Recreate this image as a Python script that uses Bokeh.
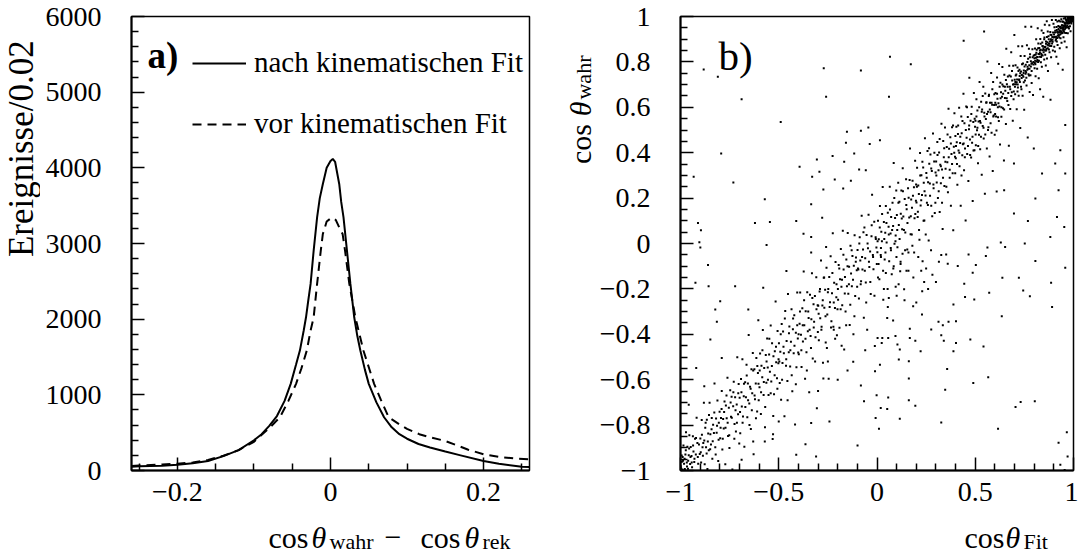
import math
from bokeh.plotting import figure
from bokeh.models import (Range1d, FixedTicker, CustomJSTickFormatter, Label,
                          Legend, LegendItem, ColumnDataSource)
from bokeh.layouts import row, column
from bokeh.embed import file_html
from bokeh.resources import INLINE

FONT = "Liberation Serif"

# ---------------- panel a) : cos(theta_wahr) - cos(theta_rek) ----------------
dcos_after = [-0.26, -0.25, -0.22, -0.20, -0.18, -0.16, -0.14, -0.12, -0.10, -0.09,
              -0.08, -0.07, -0.06, -0.052, -0.045, -0.040, -0.035, -0.032, -0.029, -0.026,
              -0.022, -0.0175, -0.014, -0.010, -0.005, 0.0, 0.003, 0.006, 0.0114, 0.014,
              0.017, 0.0215, 0.026, 0.031, 0.035, 0.039, 0.045, 0.050, 0.060, 0.070,
              0.080, 0.090, 0.100, 0.115, 0.13, 0.15, 0.17, 0.20, 0.22, 0.25, 0.26]
events_after = [50, 55, 62, 75, 95, 125, 190, 270, 400, 480,
                590, 720, 920, 1145, 1400, 1585, 1850, 2025, 2250, 2466,
                2906, 3346, 3600, 3787, 4000, 4090, 4117, 4080, 3787, 3550,
                3346, 2906, 2466, 2025, 1780, 1585, 1330, 1145, 900, 704,
                570, 480, 420, 350, 305, 250, 200, 125, 90, 50, 45]

dcos_before = [-0.26, -0.25, -0.22, -0.20, -0.18, -0.16, -0.14, -0.12, -0.10, -0.08,
               -0.066, -0.055, -0.045, -0.038, -0.031, -0.026, -0.022, -0.0175, -0.0127, -0.010,
               -0.005, 0.0, 0.003, 0.007, 0.012, 0.0158, 0.019, 0.0246, 0.0325, 0.043,
               0.057, 0.066, 0.076, 0.09, 0.10, 0.116, 0.13, 0.15, 0.18, 0.20,
               0.22, 0.24, 0.26]
events_before = [60, 65, 80, 90, 105, 140, 195, 270, 380, 560,
                 704, 920, 1145, 1350, 1585, 1850, 2025, 2466, 2906, 3126,
                 3290, 3330, 3340, 3310, 3200, 3126, 2906, 2466, 2025, 1585,
                 1145, 930, 704, 610, 550, 480, 440, 390, 275, 215,
                 180, 160, 148]

legend_labels = ["nach kinematischen Fit", "vor kinematischen Fit"]

a_xticks = [-0.2, 0, 0.2]
a_xminor = [-0.25, -0.15, -0.1, -0.05, 0.05, 0.1, 0.15, 0.25]
a_yticks = [0, 1000, 2000, 3000, 4000, 5000, 6000]
a_yminor = [200, 400, 600, 800, 1200, 1400, 1600, 1800, 2200, 2400, 2600, 2800,
            3200, 3400, 3600, 3800, 4200, 4400, 4600, 4800, 5200, 5400, 5600, 5800]

# ---------------- panel b) : cos(theta_Fit) vs cos(theta_wahr) ----------------
b_xticks = [-1, -0.5, 0, 0.5, 1]
b_xminor = [-0.9, -0.8, -0.7, -0.6, -0.4, -0.3, -0.2, -0.1,
            0.1, 0.2, 0.3, 0.4, 0.6, 0.7, 0.8, 0.9]
b_yticks = [-1, -0.8, -0.6, -0.4, -0.2, 0, 0.2, 0.4, 0.6, 0.8, 1]
b_yminor = [-0.95, -0.9, -0.85, -0.75, -0.7, -0.65, -0.55, -0.5, -0.45, -0.35, -0.3, -0.25,
            -0.15, -0.1, -0.05, 0.05, 0.1, 0.15, 0.25, 0.3, 0.35, 0.45, 0.5, 0.55,
            0.65, 0.7, 0.75, 0.85, 0.9, 0.95]

# events (cos_fit, cos_wahr), in thousandths
band_pts = [
    (-997,-990),(-994,-934),(-991,-996),(-987,-957),(-985,-890),(-982,-970),(-978,-993),(-975,-930),(-972,-832),(-968,-965),
    (-965,-895),(-962,-992),(-958,-933),(-955,-845),(-951,-971),(-948,-896),(-944,-936),(-941,-986),(-937,-849),(-934,-916),
    (-930,-963),(-926,-860),(-922,-930),(-918,-768),(-914,-879),(-910,-970),(-906,-886),(-902,-927),
    (-899,-859),(-895,-965),(-892,-777),(-888,-898),(-884,-879),(-881,-701),(-877,-972),(-874,-812),(-870,-898),(-866,-776),
    (-863,-993),(-859,-837),(-856,-911),(-852,-702),(-848,-840),(-845,-885),(-841,-769),(-838,-948),(-834,-799),(-830,-835),
    (-827,-617),(-823,-898),(-819,-771),(-816,-834),(-812,-692),(-808,-958),(-805,-790),(-801,-741),
    (-798,-858),(-794,-769),(-790,-650),(-787,-907),(-783,-773),(-780,-815),(-776,-696),(-772,-972),(-769,-714),(-765,-770),
    (-761,-591),(-758,-848),(-754,-724),(-751,-901),(-747,-647),(-743,-763),(-740,-675),(-736,-996),(-732,-717),(-729,-609),
    (-725,-795),(-722,-677),(-718,-828),(-714,-709),(-711,-501),(-707,-752),(-704,-619),(-701,-881),
    (-699,-679),(-696,-836),(-692,-597),(-688,-718),(-685,-510),(-682,-762),(-678,-673),(-675,-895),(-671,-611),(-667,-677),
    (-664,-534),(-660,-765),(-657,-617),(-653,-403),(-650,-705),(-646,-631),(-642,-817),(-639,-554),(-635,-660),(-632,-482),
    (-628,-928),(-624,-554),(-621,-686),(-617,-617),(-614,-504),(-610,-740),(-606,-571),(-603,-618),
    (-598,-633),(-595,-485),(-591,-751),(-588,-538),(-584,-589),(-581,-381),(-577,-667),(-574,-549),(-570,-810),(-566,-491),
    (-563,-613),(-559,-419),(-556,-546),(-552,-667),(-549,-489),(-545,-565),(-541,-361),(-538,-608),(-534,-439),(-531,-861),
    (-527,-497),(-524,-664),(-520,-475),(-516,-256),(-513,-523),(-509,-594),(-506,-386),(-502,-527),
    (-499,-439),(-495,-615),(-492,-477),(-488,-688),(-485,-355),(-481,-526),(-478,-388),(-474,-484),(-471,-761),(-467,-297),
    (-463,-538),(-460,-430),(-456,-606),(-453,-223),(-449,-479),(-446,-366),(-442,-542),(-438,-433),(-435,-290),(-431,-651),
    (-428,-378),(-424,-484),(-421,-316),(-417,-797),(-413,-393),(-410,-545),(-406,-216),(-403,-418),
    (-398,-488),(-394,-354),(-391,-216),(-387,-402),(-384,-544),(-380,-285),(-377,-432),(-373,-123),(-370,-360),(-366,-596),
    (-363,-298),(-359,-479),(-355,-215),(-352,-387),(-348,-328),(-345,-655),(-341,-226),(-338,-408),(-334,-334),(-331,-131),
    (-327,-507),(-323,-268),(-320,-345),(-316,-231),(-313,-413),(-309,-149),(-306,-726),(-302,-272),
    (-299,-274),(-296,-426),(-292,-212),(-289,-329),(-285,-75),(-282,-367),(-278,-273),(-275,-525),(-271,-151),(-268,-283),
    (-264,-204),(-261,-436),(-257,-107),(-253,-313),(-250,-215),(-246,-596),(-243,-148),(-239,-259),(-236,-56),(-232,-342),
    (-229,-219),(-225,45),(-222,-367),(-218,-173),(-214,-284),(-211,-81),(-207,-237),(-204,-404),
    (-198,-248),(-195,-95),(-191,-371),(-188,-158),(-184,-24),(-181,-191),(-177,-272),(-174,56),(-170,-115),(-167,-467),
    (-163,-148),(-160,-300),(-156,-71),(-153,-188),(-149,46),(-146,-221),(-142,-102),(-139,-359),(-135,-10),(-132,-132),
    (-128,-188),(-125,-55),(-121,-521),(-118,-98),(-114,36),(-111,-231),(-107,-62),(-103,-118),
    (-99,-29),(-95,-115),(-92,-242),(-88,27),(-85,-75),(-81,-166),(-78,122),(-74,-114),(-71,-26),(-67,-327),
    (-64,71),(-60,-65),(-57,-172),(-53,37),(-50,-380),(-46,-21),(-43,127),(-39,-104),(-35,-35),(-32,-222),
    (-28,32),(-25,215),(-21,-51),(-18,-113),(-14,96),(-11,-451),(-7,28),(-3,-18),
    (2,-38),(5,100),(9,19),(12,-158),(15,165),(19,-51),(22,52),(25,10),(29,249),(32,-248),
    (35,95),(39,-71),(42,47),(45,165),(49,4),(52,-328),(55,135),(59,74),(62,-78),(65,250),
    (69,44),(72,117),(75,-135),(79,179),(82,77),(85,355),(89,-1),(92,112),(95,35),(98,233),
    (101,126),(104,-16),(108,268),(111,81),(114,184),(118,-122),(121,131),(124,234),(128,63),(131,331),
    (134,119),(138,-202),(141,196),(144,49),(148,283),(151,151),(154,-26),(158,243),(161,201),(164,114),
    (168,418),(171,41),(174,194),(178,158),(181,276),(184,-276),(188,248),(191,111),(194,364),(198,188),
    (201,181),(204,334),(207,117),(210,255),(213,218),(216,16),(219,399),(222,167),(226,301),(229,214),
    (232,-78),(235,335),(238,268),(241,101),(244,464),(247,212),(251,311),(254,179),(257,407),(260,270),
    (263,13),(266,351),(269,264),(272,392),(276,166),(279,319),(282,-138),(285,485),(288,243),(291,361),(294,134),(298,313),
    (301,361),(304,269),(307,447),(310,200),(313,323),(316,401),(319,139),(322,347),(325,265),(328,528),
    (331,326),(334,64),(337,452),(340,380),(343,253),(346,511),(349,329),(352,-48),(355,425),(358,358),
    (361,226),(364,594),(367,417),(370,325),(373,468),(376,166),(379,394),(382,512),(385,310),(388,58),
    (391,426),(394,574),(397,382),(399,474),
    (401,376),(404,514),(406,446),(409,259),(412,482),(415,410),(418,598),(420,340),(423,443),(426,166),
    (429,559),(431,486),(434,389),(437,437),(440,660),(443,323),(445,530),(448,418),(451,101),(454,604),
    (456,466),(459,394),(462,557),(465,275),(468,503),(470,730),(473,458),(476,541),(479,379),(482,602),
    (484,444),(487,187),(490,535),(493,663),(496,411),(499,514),
    (501,541),(503,433),(506,636),(509,499),(511,586),(514,354),(517,537),(519,479),(522,712),(525,415),
    (527,532),(530,625),(533,303),(535,590),(538,518),(541,691),(543,463),(546,576),(549,219),(551,661),
    (554,549),(557,622),(559,419),(562,802),(565,580),(567,512),(570,655),(573,383),(575,620),(578,578),
    (581,751),(583,488),(586,611),(589,319),(591,711),(594,564),(597,657),(599,479),
    (601,571),(603,663),(606,611),(608,498),(611,731),(613,638),(616,556),(618,618),(621,791),(623,603),
    (626,436),(628,708),(631,666),(633,558),(636,646),(638,778),(641,596),(643,693),(646,366),(648,743),
    (651,641),(653,673),(656,526),(658,858),(661,701),(663,628),(666,736),(668,663),(671,431),(673,783),
    (676,691),(678,593),(681,736),(683,843),(686,666),(688,718),(691,541),(693,783),(695,635),(697,702),(699,919),(609,229),
    (701,721),(703,658),(705,785),(707,702),(709,744),(711,591),(713,723),(715,775),(717,687),(719,869),
    (721,651),(723,723),(725,765),(727,712),(729,509),(731,826),(733,758),(735,680),(737,742),(739,869),
    (741,651),(743,793),(745,735),(747,762),(749,589),(751,826),(753,718),(755,955),(757,787),(759,754),
    (761,696),(763,873),(765,765),(767,467),(769,814),(771,746),(773,858),(775,785),(777,667),(779,834),
    (781,741),(783,803),(785,955),(787,707),(789,794),(791,856),(794,654),(797,827),
    (801,816),(802,772),(804,859),(805,805),(807,737),(808,833),(810,900),(812,802),(813,853),(815,770),
    (817,822),(818,948),(820,800),(821,881),(823,728),(825,835),(826,861),(828,823),(830,680),(831,901),
    (833,853),(834,799),(836,836),(838,938),(839,779),(841,886),(843,828),(844,869),(846,646),(847,927),
    (849,854),(851,811),(852,907),(854,964),(856,831),(857,867),(859,784),(860,890),(862,857),(864,979),
    (865,815),(867,887),(869,934),(870,760),(872,872),(873,913),(875,855),(877,962),(878,843),(880,890),
    (882,932),(883,633),(885,900),(886,821),(888,918),(890,985),(891,881),(893,898),(895,850),(898,968),
    (901,921),(902,867),(903,953),(905,910),(906,846),(907,937),(909,894),(910,985),(911,911),(913,823),
    (914,954),(915,890),(917,932),(918,978),(919,874),(921,931),(922,792),(923,958),(925,915),(926,981),
    (927,907),(929,954),(930,860),(931,936),(933,978),(934,904),(935,950),(937,932),(938,988),(939,884),
    (941,961),(942,927),(943,978),(945,765),(946,946),(947,977),(949,909),(950,960),(951,991),(953,928),
    (954,974),(955,890),(957,962),(958,993),(959,949),(961,986),(962,927),(963,973),(965,865),(966,986),
    (967,952),(969,969),(970,995),(971,926),(973,988),(974,954),(975,980),(977,947),(978,993),(979,974),
    (981,991),(982,957),(983,983),(985,935),(986,994),(987,977),(988,993),(989,969),(990,993),(991,983),
    (992,996),(993,978),(994,996),(995,990),(996,997),(997,985),(998,995),(999,998),(984,996),(972,992),
]
band_pts_2 = [
    (-999,-981),(-993,-962),(-989,-940),(-981,-999),(-979,-948),(-973,-911),(-967,-982),(-961,-957),(-956,-903),(-949,-940),
    (-943,-965),(-936,-890),(-929,-948),(-921,-857),(-912,-940),
    (-897,-920),(-891,-842),(-886,-935),(-879,-868),(-872,-790),(-867,-925),(-861,-872),(-855,-755),(-849,-906),(-842,-818),
    (-836,-871),(-828,-745),(-821,-930),(-814,-803),(-806,-864),
    (-796,-812),(-791,-729),(-785,-860),(-778,-742),(-771,-812),(-766,-670),(-760,-790),(-752,-845),(-745,-700),(-739,-768),
    (-731,-655),(-726,-860),(-720,-735),(-713,-790),(-706,-660),
    (-697,-742),(-690,-655),(-684,-790),(-677,-618),(-670,-720),(-663,-582),(-656,-690),(-649,-800),(-643,-640),(-637,-735),
    (-630,-560),(-623,-670),(-616,-770),(-609,-540),(-602,-690),
    (-597,-560),(-590,-655),(-583,-470),(-576,-610),(-569,-720),(-562,-520),(-555,-600),(-548,-420),(-541,-660),(-535,-540),
    (-528,-760),(-521,-580),(-514,-455),(-507,-640),(-501,-510),
    (-497,-520),(-490,-400),(-483,-600),(-476,-455),(-469,-330),(-462,-510),(-455,-690),(-448,-395),(-441,-470),(-434,-580),
    (-427,-330),(-420,-450),(-413,-620),(-406,-360),(-401,-480),
    (-399,-400),(-392,-300),(-385,-470),(-378,-360),(-371,-250),(-364,-420),(-357,-560),(-350,-300),(-343,-380),(-336,-460),
    (-329,-240),(-322,-370),(-315,-520),(-308,-290),(-301,-390),
    (-297,-310),(-290,-200),(-283,-380),(-276,-250),(-269,-150),(-262,-320),(-255,-460),(-248,-200),(-241,-280),(-234,-370),
    (-227,-130),(-220,-260),(-213,-420),(-206,-180),(-201,-290),
    (-199,-200),(-192,-110),(-185,-290),(-178,-160),(-171,-50),(-164,-220),(-157,-360),(-150,-100),(-143,-180),(-136,-270),
    (-129,-30),(-122,-160),(-115,-320),(-108,-80),(-101,-190),
    (-97,-110),(-90,0),(-83,-180),(-76,-60),(-69,50),(-62,-120),(-55,-260),(-48,0),(-41,-80),(-34,-170),
    (-27,80),(-20,-60),(-13,-230),(-6,20),(-1,-90),
    (3,10),(8,-90),(14,70),(20,-20),(26,130),(31,-120),(37,20),(43,-40),(48,90),(54,-200),
    (60,40),(66,150),(71,-30),(77,60),(83,-110),(88,200),(94,10),(99,-60),
    (103,60),(109,180),(115,20),(120,-80),(126,110),(132,230),(137,60),(143,-30),(149,170),(155,90),
    (160,-120),(166,280),(172,120),(177,40),(183,210),(189,-40),(195,130),(199,260),
    (203,250),(208,140),(214,60),(220,300),(225,190),(231,360),(237,100),(242,230),(248,40),(253,290),
    (259,170),(265,420),(270,210),(276,330),(281,120),(287,260),(292,400),(297,180),
    (302,300),(308,390),(314,230),(319,460),(325,340),(331,180),(336,290),(342,420),(348,360),(353,250),
    (359,480),(365,380),(370,290),(376,440),(382,350),(387,520),(393,400),(398,310),
    (402,430),(407,350),(413,520),(419,400),(424,470),(430,300),(435,540),(441,440),(447,380),(452,500),
    (458,600),(463,430),(469,520),(474,390),(480,570),(486,470),(491,410),(497,550),
    (502,480),(506,560),(511,510),(515,430),(520,600),(524,540),(529,470),(533,580),(538,650),(542,510),
    (547,560),(551,480),(556,620),(560,570),(565,500),(569,650),(574,590),(578,530),(583,620),(587,680),(592,560),(596,610),
    (602,620),(606,560),(611,660),(615,600),(620,540),(624,690),(629,640),(633,600),(638,700),(642,660),
    (647,590),(651,690),(656,720),(660,640),(665,690),(669,610),(674,740),(678,680),(683,650),(687,760),(692,700),(696,670),
    (702,690),(706,740),(711,710),(715,670),(720,760),(724,720),(729,750),(733,690),(738,790),(742,740),
    (747,710),(751,780),(756,760),(760,730),(765,800),(769,770),(774,740),(778,820),(783,780),(787,760),(792,820),(796,800),
    (802,830),(806,790),(811,840),(815,820),(820,860),(824,805),(829,850),(833,880),(838,830),(842,870),
    (847,860),(851,900),(856,850),(860,880),(865,910),(869,860),(874,900),(878,880),(883,920),(887,870),(892,910),(896,930),
    (902,910),(906,930),(911,900),(915,940),(920,915),(924,945),(929,930),(933,955),(938,925),(942,960),
    (947,950),(951,935),(956,970),(960,955),(965,980),(969,960),(974,985),(978,970),(983,990),(987,975),(992,993),(996,985),
]
core_pts = [
    (996,990),(993,999),(989,985),(985,992),(980,976),(976,970),(968,975),(964,957),(960,968),(956,944),
    (952,955),(948,941),(944,952),(940,935),(936,947),(932,921),(928,938),(924,919),(920,928),(916,905),
    (803,795),(809,818),(816,808),(822,835),(829,840),(835,822),(842,851),(848,842),(855,866),(861,850),
    (868,876),(874,881),(881,870),(887,893),(894,889),(899,907),(704,712),(716,700),(726,738),(736,729),
    (746,751),(756,748),(766,779),(776,770),(786,792),(796,788),
]
halo_pts = [
    (20,-60),(45,-130),(70,-20),(95,-190),(120,-90),(140,-250),(160,-40),(185,-150),(210,-60),(230,-210),
    (250,-110),(275,-30),(300,-170),(60,-240),(110,-180),(35,-200),(150,-120),(200,-260),(260,-200),(180,-10),
    (130,-45),(85,-100),(240,-170),(315,-80),(5,-150),(55,-280),(100,-230),(225,-120),(-250,-520),(-180,-450),
    (-120,-400),(-200,-600),(-150,-560),(-300,-650),(-60,-470),(-220,-380),
]
outlier_pts = [
    (-882,767),(-810,735),(-271,772),(-82,762),(-259,647),(-689,635),(-490,535),(-793,397),(-933,294),(-731,269),
    (-571,195),(-621,90),(-545,95),(-411,99),(-911,90),(-896,58),(-904,5),(-394,338),(-306,370),(-226,385),
    (-167,360),(-116,397),(-158,444),(-153,492),(-82,497),(-44,511),(-37,438),(-330,294),(-293,316),(-215,282),
    (-273,238),(-172,242),(-133,276),(-91,326),(-57,323),(-335,173),(-279,113),(-374,43),(-335,29),
    (66,823),(172,790),(441,893),(545,934),(61,647),(15,455),(907,352),(958,308),(924,235),(768,99),
    (916,117),(882,29),(953,73),(697,132),(806,198),(647,235),(840,308),(697,352),(798,419),(958,522),(933,411),
    (-899,-18),(-562,-7),(-924,-173),(-857,-188),(-860,-95),(-722,-188),(-798,-254),(-823,-291),(-815,-345),(-848,-423),
    (-790,-504),(-920,-548),(-879,-629),(-958,-710),(-571,-872),(-689,-953),(-411,-931),(-310,-938),(-364,-884),(-242,-784),
    (-99,-890),(-82,-625),(-66,-695),(-273,-595),(-335,-791),(-500,-784),(-529,-840),(-630,-872),(-604,-338),(-579,-195),
    (-655,-291),(-461,-121),(-335,-40),(-259,-15),
    (630,4),(752,0),(652,-15),(958,-107),(806,-77),(722,-151),(638,-151),(886,-173),(744,-207),(778,-232),
    (891,-280),(635,-320),(571,-217),(495,-247),(448,-236),(444,-177),(487,-129),(503,-95),(554,-55),(562,-18),
    (466,-48),(411,-99),(360,-89),(327,-51),(389,-269),(364,-345),(402,-342),(313,-345),(335,-360),(276,-379),
    (327,-404),(340,-428),(402,-438),(389,-475),(475,-423),(542,-454),(222,-475),(229,-313),(167,-375),(167,-416),
    (195,-428),(116,-467),(104,-445),(82,-339),(94,-408),(57,-416),(27,-416),(3,-416),(24,-438),(15,-534),
    (-10,-563),(111,-511),(162,-519),(357,-553),(162,-595),(566,-589),(490,-614),(347,-644),(-2,-669),(57,-678),
    (162,-691),(195,-715),(19,-725),(52,-729),(116,-772),(-7,-769),(10,-816),(327,-788),(616,-816),(705,-720),
    (731,-698),(803,-695),(966,-831),(924,-878),(970,-938),(933,-975),(955,-998),
]

# ------------------------------------------------------------------------------
MINUS_FMT = 'return tick < 0 ? "\\u2212" + String(-tick) : String(tick);'


def style_axes(p, xt, xm, yt, ym):
    p.xgrid.visible = False
    p.ygrid.visible = False
    p.outline_line_color = "black"
    p.outline_line_width = 1.5
    p.background_fill_color = "white"
    p.border_fill_color = "white"
    for ax, t, m in ((p.xaxis[0], xt, xm), (p.yaxis[0], yt, ym)):
        ax.ticker = FixedTicker(ticks=t, minor_ticks=m)
        ax.formatter = CustomJSTickFormatter(code=MINUS_FMT)
        ax.major_tick_in = 13
        ax.major_tick_out = 0
        ax.minor_tick_in = 7
        ax.minor_tick_out = 0
        ax.major_tick_line_width = 1.5
        ax.minor_tick_line_width = 1.5
        ax.major_tick_line_color = "black"
        ax.minor_tick_line_color = "black"
        ax.axis_line_width = 2
        ax.axis_line_color = "black"
        ax.major_label_text_font = FONT
        ax.major_label_text_font_size = "28px"
        ax.major_label_text_color = "black"
    p.yaxis[0].major_label_standoff = 30
    p.xaxis[0].major_label_standoff = 12


def text_fig(w, h):
    f = figure(width=w, height=h, x_range=Range1d(0, w), y_range=Range1d(0, h),
               output_backend="svg", toolbar_location=None, min_border=0,
               x_axis_location=None, y_axis_location=None)
    f.xgrid.visible = False
    f.ygrid.visible = False
    f.outline_line_color = None
    f.background_fill_color = "white"
    f.border_fill_color = "white"
    return f


def add_text(p, x, y, text, size, style="normal", align="left", angle=0.0):
    # (x, y) is the middle of the text line
    p.add_layout(Label(x=x, y=y, text=text, text_font=FONT, text_font_size=size,
                       text_font_style=style, text_align=align, text_baseline="middle",
                       text_color="black", angle=angle))


TOP_H = 514
BOT_H = 40

# ---------------- figure a ----------------
p1 = figure(width=500, height=TOP_H, x_range=Range1d(-0.26, 0.26), y_range=Range1d(0, 6000),
            output_backend="svg", toolbar_location=None,
            min_border_left=91, min_border_right=11, min_border_top=16, min_border_bottom=44)
style_axes(p1, a_xticks, a_xminor, a_yticks, a_yminor)

r_after = p1.line(dcos_after, events_after, line_color="black", line_width=2)
r_before = p1.line(dcos_before, events_before, line_color="black", line_width=2, line_dash="9 6")

leg = Legend(items=[LegendItem(label=legend_labels[0], renderers=[r_after]),
                    LegendItem(label=legend_labels[1], renderers=[r_before])],
             location=(61, 330), padding=0, margin=0, spacing=28,
             glyph_width=54, glyph_height=20, label_standoff=8, label_height=20,
             border_line_color=None, background_fill_alpha=0.0,
             label_text_font=FONT, label_text_font_size="29px", label_text_color="black")
p1.add_layout(leg)
add_text(p1, -0.2391, 5479, "a)", "37px", style="bold")

yt1 = text_fig(40, TOP_H)
add_text(yt1, 21, 487, "Ereignisse/0.02", "35px", align="right", angle=math.pi / 2)

xt1 = text_fig(540, BOT_H)
for txt, xx, sub, st in (("cos", 268, False, "normal"), ("\u03b8", 311, False, "italic"),
                         ("wahr", 329, True, "normal"), ("\u2212", 384, False, "normal"),
                         ("cos", 420, False, "normal"), ("\u03b8", 464, False, "italic"),
                         ("rek", 482, True, "normal")):
    add_text(xt1, xx, 12.8 if sub else 17.5, txt, "22px" if sub else "30px", style=st)

# ---------------- figure b ----------------
p2 = figure(width=482, height=TOP_H, x_range=Range1d(-1, 1), y_range=Range1d(-1, 1),
            output_backend="svg", toolbar_location=None,
            min_border_left=82, min_border_right=5, min_border_top=16, min_border_bottom=44)
style_axes(p2, b_xticks, b_xminor, b_yticks, b_yminor)

all_pts = band_pts + band_pts_2 + core_pts + halo_pts + outlier_pts
src = ColumnDataSource(data=dict(cos_fit=[a / 1000.0 for a, b in all_pts],
                                 cos_wahr=[b / 1000.0 for a, b in all_pts]))
p2.scatter("cos_fit", "cos_wahr", source=src, marker="square", size=2,
           fill_color="black", line_color=None)
add_text(p2, -0.807, 0.8278, "b)", "41px")

yt2 = text_fig(56, TOP_H)
add_text(yt2, 39.5, 347, "cos", "30px", angle=math.pi / 2)
add_text(yt2, 39.5, 401, "\u03b8", "30px", style="italic", angle=math.pi / 2)
add_text(yt2, 43.3, 420, "wahr", "22px", angle=math.pi / 2)

xt2 = text_fig(538, BOT_H)
add_text(xt2, 424, 17.5, "cos", "30px")
add_text(xt2, 465, 17.5, "\u03b8", "30px", style="italic")
add_text(xt2, 483, 12.8, "Fit", "22px")

layout = row(column(row(yt1, p1), xt1), column(row(yt2, p2), xt2))
with open("out.html", "w", encoding="utf-8") as f:
    f.write(file_html(layout, INLINE))
